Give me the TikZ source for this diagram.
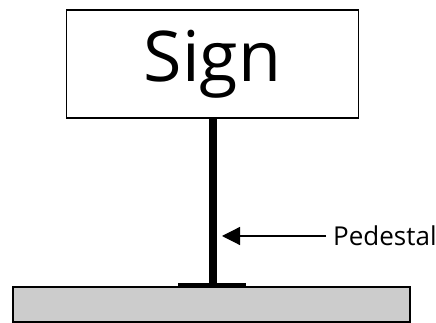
\documentclass[tikz,border=0pt]{standalone}
\usepackage{fontspec}
\setmainfont{Open Sans}
\usetikzlibrary{arrows.meta,positioning}

\begin{document}
\begin{tikzpicture}[
  x=1pt, y=1pt,
  signbox/.style={draw, line width=1.5pt, fill=white, minimum width=292pt, minimum height=108pt, inner sep=0pt},
  groundbox/.style={draw, line width=1.5pt, fill=black!20, minimum width=397pt, minimum height=35pt, inner sep=0pt},
  arr/.style={-{Triangle[length=18pt, width=18pt]}, line width=1.2pt}
]
  \useasboundingbox (0,0) rectangle (436,323);
  \node[signbox] (sign) at (212.5,259) {\fontsize{70}{70}\selectfont Sign};
  \node[groundbox] (ground) at (211.5,18.5) {};
  % pedestal and base plate
  \draw[line width=8pt] (sign.south) -- (sign.south |- ground.north);
  \fill (178,35) rectangle (246,40);
  \coordinate (pole) at (222,87);
  \node[anchor=west, inner sep=0pt] (label) at (333,87) {\fontsize{26}{26}\selectfont Pedestal};
  \draw[arr] (label.west) ++(-7,0) -- (pole);
\end{tikzpicture}
\end{document}
